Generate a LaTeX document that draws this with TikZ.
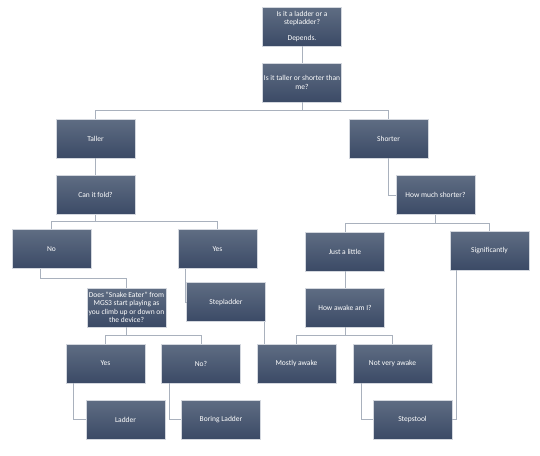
\documentclass[tikz,border=0pt]{standalone}
\usepackage{fontspec}
\setmainfont{Carlito}
\usepackage{tikz}
\usetikzlibrary{positioning}

\definecolor{boxtop}{HTML}{5F6D83}
\definecolor{boxbot}{HTML}{3B4A66}
\definecolor{boxline}{HTML}{D3D7DE}
\definecolor{connline}{HTML}{A9B1BD}

% one line of box text, kept to the box width
\newcommand{\boxline}[1]{\makebox[76pt]{#1}}

\begin{document}
\begin{tikzpicture}[
  x=1pt, y=-1pt,
  box/.style={rectangle, draw=boxline, line width=0.5pt,
             top color=boxtop, bottom color=boxbot,
             minimum width=79pt, minimum height=39pt, inner sep=1pt,
             align=center, text=white, font=\fontsize{7.5}{8.3}\selectfont},
  conn/.style={draw=connline, line width=1pt}
]
\useasboundingbox (0,0) rectangle (540,455);

% top of the tree
\node[box] (ladq) at (302,26.5) {Is it a ladder or a\\stepladder?\\[7pt]Depends.};
\node[box] (tallq) at (302,82.5) {\boxline{Is it taller or shorter than}\\me?};

% taller branch
\node[box] (taller) at (95.5,138.5) {Taller};
\node[box] (fold) at (95.5,195) {Can it fold?};
\node[box] (foldno) at (51.5,249) {No};
\node[box] (foldyes) at (217.5,249) {Yes};
\node[box] (stepl) at (226,302) {Stepladder};
\node[box] (snake) at (126.5,307.5) {\boxline{Does "Snake Eater" from}\\MGS3 start playing as\\\boxline{you climb up or down on}\\the device?};
\node[box] (snakeyes) at (105.5,363.5) {Yes};
\node[box] (snakeno) at (201,363.5) {No?};
\node[box] (ladder) at (125.5,419.5) {Ladder};
\node[box] (boring) at (221,419.5) {Boring Ladder};

% shorter branch
\node[box] (shorter) at (388.5,138.5) {Shorter};
\node[box] (howmuch) at (435.5,195) {How much shorter?};
\node[box] (little) at (345,251.5) {Just a little};
\node[box] (signif) at (489.5,250.5) {Significantly};
\node[box] (awake) at (345,307.5) {How awake am I?};
\node[box] (mostly) at (296.5,363.5) {Mostly awake};
\node[box] (notvery) at (392.5,363.5) {Not very awake};
\node[box] (stool) at (412.5,419.5) {Stepstool};

\draw[conn] (ladq) -- (tallq);
\draw[conn] (tallq.south) -- ++(0,-8.5pt) -| (taller.north);
\draw[conn] (tallq.south) -- ++(0,-8.5pt) -| (shorter.north);

\draw[conn] (taller) -- (fold);
\draw[conn] (fold.south) -- ++(0,-6.5pt) -| (foldno.north);
\draw[conn] (fold.south) -- ++(0,-6.5pt) -| (foldyes.north);
\draw[conn] ([xshift=-11pt]foldno.south) -- ++(0,-10pt) -| (snake.north);
\draw[conn] ([xshift=8pt]foldyes.south west) |- (stepl.west);
\draw[conn] ([xshift=-1pt]stepl.south east) -- ([xshift=-1pt]stepl.south east |- mostly.north);
\draw[conn] (snake.south) -- ++(0,-8.5pt) -| (snakeyes.north);
\draw[conn] (snake.south) -- ++(0,-8.5pt) -| (snakeno.north);
\draw[conn] ([xshift=8pt]snakeyes.south west) |- (ladder.west);
\draw[conn] ([xshift=8pt]snakeno.south west) |- (boring.west);

\draw[conn] (shorter.south) |- (howmuch.west);
\draw[conn] (howmuch.south) -- ++(0,-8.5pt) -| (little.north);
\draw[conn] (howmuch.south) -- ++(0,-8.5pt) -| (signif.north);
\draw[conn] (little) -- (awake);
\draw[conn] (awake.south) -- ++(0,-8.5pt) -| (mostly.north);
\draw[conn] (awake.south) -- ++(0,-8.5pt) -| (notvery.north);
\draw[conn] ([xshift=9pt]notvery.south west) |- (stool.west);
\draw[conn] ([xshift=7pt]signif.south west) |- (stool.east);

\end{tikzpicture}
\end{document}
